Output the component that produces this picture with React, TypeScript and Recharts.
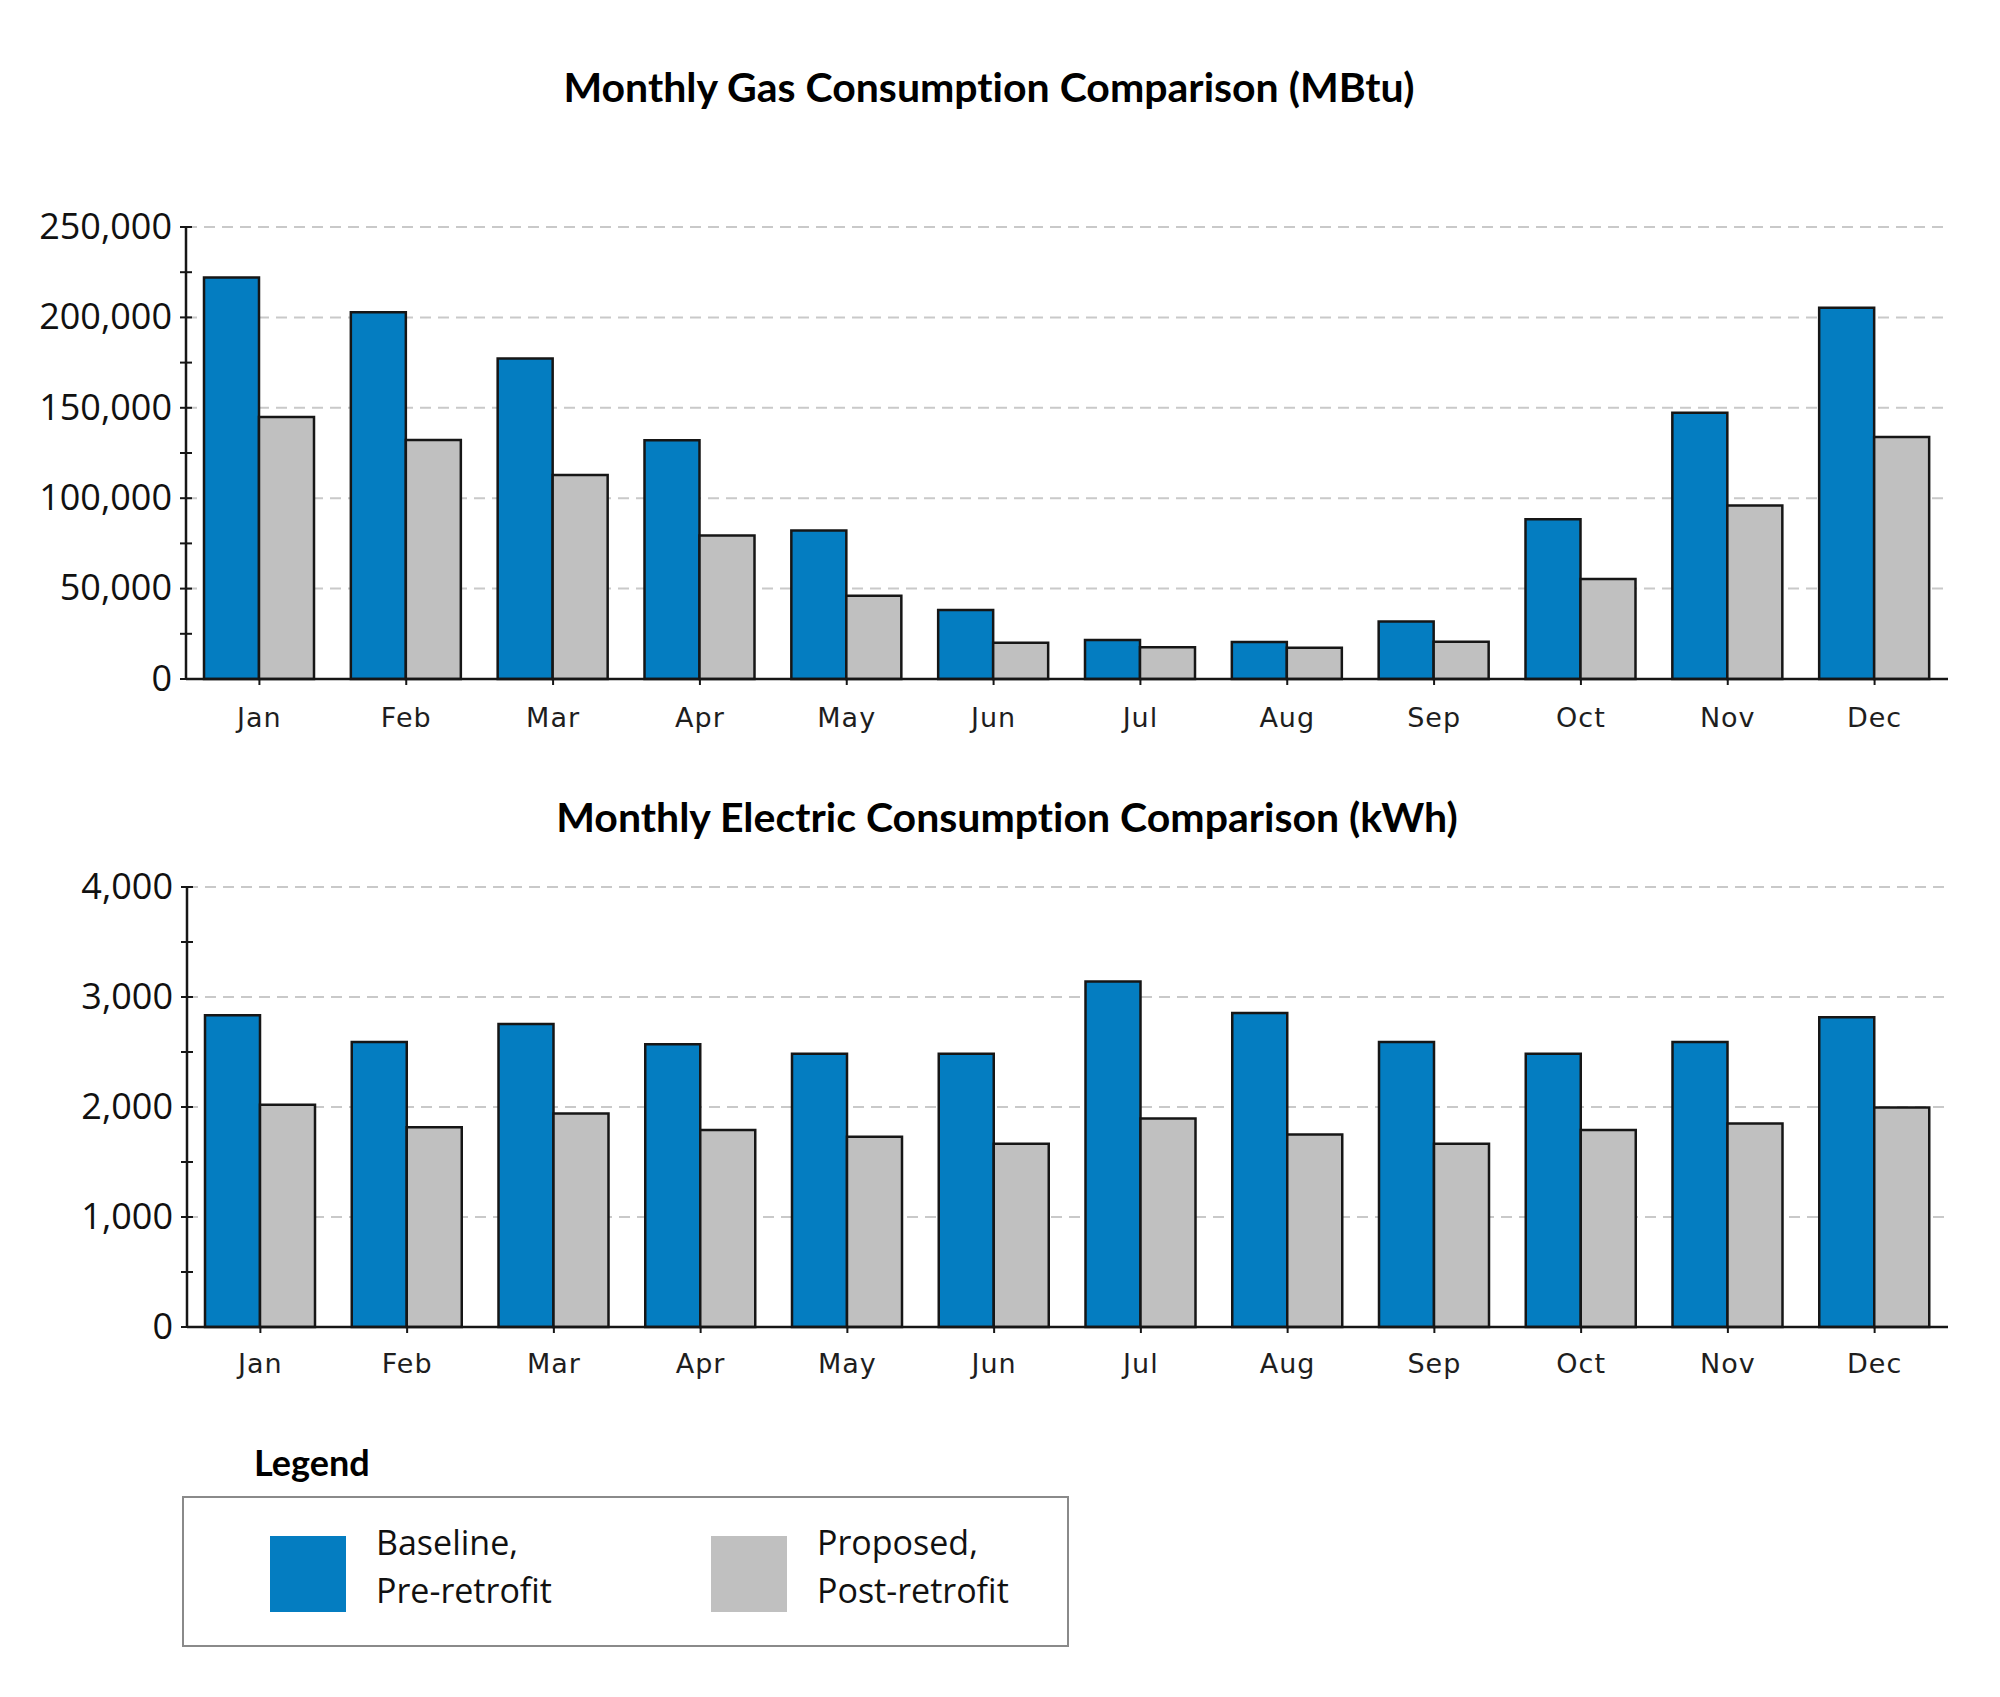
import React from 'react';
import { BarChart, Bar, XAxis, YAxis, CartesianGrid } from 'recharts';

const months = ['Jan', 'Feb', 'Mar', 'Apr', 'May', 'Jun', 'Jul', 'Aug', 'Sep', 'Oct', 'Nov', 'Dec'];

// Gas, MBtu
const gasBaseline = [222000, 202800, 177300, 132000, 82200, 38200, 21600, 20400, 31800, 88300, 147200, 205300];
const gasProposed = [144900, 132200, 112800, 79400, 46100, 20000, 17600, 17300, 20600, 55300, 96000, 133800];
const gasTicks = [0, 25000, 50000, 75000, 100000, 125000, 150000, 175000, 200000, 225000, 250000];
const gasGrid = [50000, 100000, 150000, 200000, 250000];

// Electric, kWh
const elecBaseline = [2835, 2590, 2755, 2570, 2485, 2485, 3140, 2855, 2590, 2485, 2590, 2815];
const elecProposed = [2020, 1815, 1940, 1790, 1730, 1665, 1895, 1750, 1665, 1790, 1850, 1995];
const elecTicks = [0, 500, 1000, 1500, 2000, 2500, 3000, 3500, 4000];
const elecGrid = [1000, 2000, 3000, 4000];

const legendItems = [
  { label1: 'Baseline,', label2: 'Pre-retrofit', color: '#047DC1' },
  { label1: 'Proposed,', label2: 'Post-retrofit', color: '#C0C0C0' },
];

const BLUE = '#047DC1';
const GRAY = '#C0C0C0';
const EDGE = '#161616';

const gasData = months.map((m, i) => ({ month: m, baseline: gasBaseline[i], proposed: gasProposed[i] }));
const elecData = months.map((m, i) => ({ month: m, baseline: elecBaseline[i], proposed: elecProposed[i] }));

const YTick = ({ x, y, payload, major }: any) => {
  const v = payload.value;
  const show = v % major === 0;
  return (
    <g>
      <line x1={x - 6} x2={x + 6} y1={y} y2={y} stroke={EDGE} strokeWidth={2} />
      {show && (
        <text x={x - 14} y={y} dy="0.33em" textAnchor="end" fill="#111" fontSize={36} fontFamily="'Open Sans', sans-serif">
          {v.toLocaleString('en-US')}
        </text>
      )}
    </g>
  );
};

const XTick = ({ x, y, payload }: any) => (
  <text
    x={x}
    y={y}
    dy={20}
    textAnchor="middle"
    fill="#1e1e1e"
    fontSize={27}
    letterSpacing={1}
    style={{ fontFamily: "'DejaVu Sans', Verdana, sans-serif" }}
  >
    {payload.value}
  </text>
);

type PanelProps = {
  data: any[];
  top: number;
  height: number;
  margin: { top: number; right: number; bottom: number; left: number };
  yWidth: number;
  domainMax: number;
  ticks: number[];
  grid: number[];
  major: number;
  labelMargin: number;
};

const Panel = ({ data, top, height, margin, yWidth, domainMax, ticks, grid, major, labelMargin }: PanelProps) => (
  <div style={{ position: 'absolute', left: 0, top }}>
    <BarChart width={2000} height={height} data={data} margin={margin} barGap={0} barSize={55}>
      <CartesianGrid vertical={false} horizontalValues={grid} stroke="#c9c9c9" strokeWidth={2} strokeDasharray="11 7" />
      <XAxis
        dataKey="month"
        height={60}
        tick={(p: any) => <XTick {...p} />}
        tickSize={6}
        tickMargin={labelMargin}
        axisLine={{ stroke: EDGE, strokeWidth: 2.5 }}
        tickLine={{ stroke: EDGE, strokeWidth: 2 }}
        interval={0}
      />
      <YAxis
        width={yWidth}
        domain={[0, domainMax]}
        ticks={ticks}
        interval={0}
        tickSize={0}
        tickMargin={0}
        tickLine={false}
        axisLine={{ stroke: EDGE, strokeWidth: 2.5 }}
        tick={(p: any) => <YTick {...p} major={major} />}
      />
      <Bar dataKey="baseline" fill={BLUE} stroke={EDGE} strokeWidth={2.5} isAnimationActive={false} />
      <Bar dataKey="proposed" fill={GRAY} stroke={EDGE} strokeWidth={2.5} isAnimationActive={false} />
    </BarChart>
  </div>
);

const titleStyle = { fontVariantLigatures: 'none' as const };

export default function App() {
  return (
    <div style={{ position: 'absolute', left: 0, top: 0, width: 2000, height: 1697, background: '#fff', overflow: 'hidden' }}>
      <Panel
        data={gasData}
        top={130}
        height={630}
        margin={{ top: 97, right: 52, bottom: 21, left: 0 }}
        yWidth={186}
        domainMax={250000}
        ticks={gasTicks}
        grid={gasGrid}
        major={50000}
        labelMargin={22}
      />
      <Panel
        data={elecData}
        top={860}
        height={560}
        margin={{ top: 27, right: 52, bottom: 33, left: 0 }}
        yWidth={187}
        domainMax={4000}
        ticks={elecTicks}
        grid={elecGrid}
        major={1000}
        labelMargin={20}
      />
      <svg width={2000} height={1697} style={{ position: 'absolute', left: 0, top: 0, pointerEvents: 'none' }}>
        <text x={989} y={102} textAnchor="middle" fontFamily="Lato, sans-serif" fontWeight={700} fontSize={41} fill="#000" style={titleStyle}>
          Monthly Gas Consumption Comparison (MBtu)
        </text>
        <text x={1007} y={832} textAnchor="middle" fontFamily="Lato, sans-serif" fontWeight={700} fontSize={41} fill="#000" style={titleStyle}>
          Monthly Electric Consumption Comparison (kWh)
        </text>
        <text x={254} y={1476} fontFamily="Lato, sans-serif" fontWeight={700} fontSize={36} fill="#000">
          Legend
        </text>
        <rect x={183} y={1497} width={885} height={149} fill="none" stroke="#8a8a8a" strokeWidth={2} />
        {legendItems.map((it, i) => {
          const sx = i === 0 ? 270 : 711;
          return (
            <g key={it.label1}>
              <rect x={sx} y={1536} width={76} height={76} fill={it.color} />
              <text x={sx + 106} y={1555} fontFamily="'Open Sans', sans-serif" fontSize={34} fill="#111">
                {it.label1}
              </text>
              <text x={sx + 106} y={1603} fontFamily="'Open Sans', sans-serif" fontSize={34} fill="#111">
                {it.label2}
              </text>
            </g>
          );
        })}
      </svg>
    </div>
  );
}
